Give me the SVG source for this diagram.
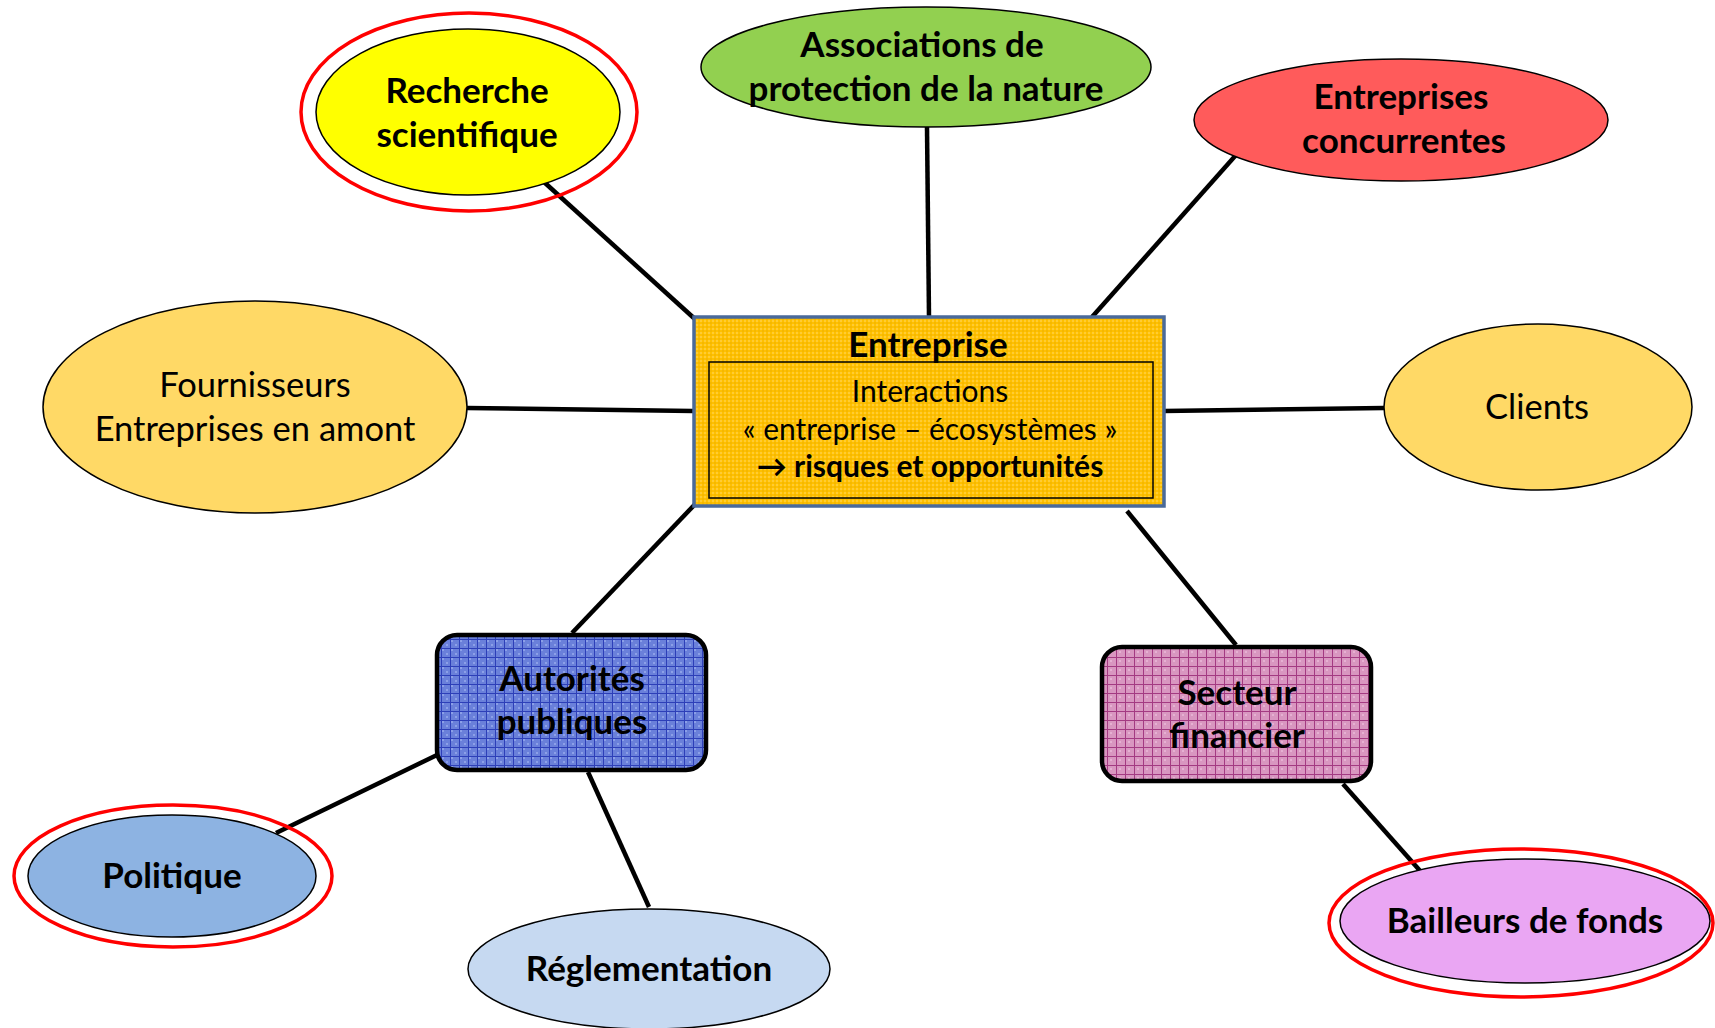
<svg xmlns="http://www.w3.org/2000/svg" width="1715" height="1028" viewBox="0 0 1715 1028">
<style>
.t{font-family:Lato,"Liberation Sans",sans-serif;font-weight:bold;font-size:35px;fill:#000;text-anchor:middle}
.n{font-weight:normal;font-size:34.5px}
.s{font-size:30px}
.el{stroke:#000;stroke-width:1.5}
.red{fill:none;stroke:#FF0000;stroke-width:3.5}
.con line{stroke:#000;stroke-width:4.5;stroke-linecap:butt}
</style>
<defs>
<pattern id="pOr" width="4" height="4" patternUnits="userSpaceOnUse">
<rect width="4" height="4" fill="#FFC000"/>
<rect width="2" height="2" fill="#FFCC33"/>
<rect x="2" y="2" width="2" height="2" fill="#F5B800"/>
</pattern>
<pattern id="pBl" width="9" height="9" patternUnits="userSpaceOnUse">
<rect width="9" height="9" fill="#6A80DA"/>
<rect x="1" y="1" width="2" height="2" fill="#8CA0E8"/>
<rect x="5" y="5" width="2" height="2" fill="#8CA0E8"/>
<path d="M0 0.5H9M0.5 0V9" stroke="#2D3FB8" stroke-width="1"/>
</pattern>
<pattern id="pPk" width="9" height="9" patternUnits="userSpaceOnUse">
<rect width="9" height="9" fill="#D996C0"/>
<rect x="3" y="3" width="2" height="2" fill="#E6B0D2"/>
<path d="M0 0.5H9M0.5 0V9" stroke="#A43A82" stroke-width="1"/>
</pattern>
</defs>
<rect width="1715" height="1028" fill="#fff"/>
<g class="con" id="connectors">
<line x1="544" y1="182" x2="696" y2="320"/>
<line x1="927" y1="127" x2="929" y2="317"/>
<line x1="1236" y1="155" x2="1092" y2="317"/>
<line x1="467" y1="408" x2="693" y2="411"/>
<line x1="1164" y1="411" x2="1384" y2="408"/>
<line x1="700" y1="499" x2="572" y2="633"/>
<line x1="1127" y1="511" x2="1236" y2="645"/>
<line x1="437" y1="755" x2="276" y2="833"/>
<line x1="588" y1="772" x2="649" y2="907"/>
<line x1="1343" y1="784" x2="1422" y2="873"/>
</g>
<g id="recherche">
<ellipse class="red" cx="469" cy="112" rx="168" ry="99"/>
<ellipse class="el" cx="468" cy="112" rx="152" ry="83" fill="#FFFF00"/>
<text class="t" x="467" y="103">Recherche</text>
<text class="t" x="467" y="147">scientifique</text>
</g>
<g id="associations">
<ellipse class="el" cx="926" cy="67" rx="225" ry="60" fill="#92D050"/>
<text class="t" x="922" y="57">Associations de</text>
<text class="t" x="926" y="101">protection de la nature</text>
</g>
<g id="concurrentes">
<ellipse class="el" cx="1401" cy="120" rx="207" ry="61" fill="#FF5B5B"/>
<text class="t" x="1401" y="109">Entreprises</text>
<text class="t" x="1404" y="153">concurrentes</text>
</g>
<g id="fournisseurs">
<ellipse class="el" cx="255" cy="407" rx="212" ry="106" fill="#FFD966"/>
<text class="t n" x="255" y="397">Fournisseurs</text>
<text class="t n" x="255" y="441">Entreprises en amont</text>
</g>
<g id="clients">
<ellipse class="el" cx="1538" cy="407" rx="154" ry="83" fill="#FFD966"/>
<text class="t n" x="1537" y="419">Clients</text>
</g>
<g id="entreprise">
<rect x="694" y="317" width="470" height="189" fill="url(#pOr)" stroke="#4A6A9A" stroke-width="3.5"/>
<rect x="709" y="362" width="444" height="136" fill="none" stroke="#000" stroke-width="1.5"/>
<text class="t" x="928" y="357">Entreprise</text>
<text class="t n s" x="930" y="402">Interactions</text>
<text class="t n s" x="930" y="440">« entreprise – écosystèmes »</text>
<text class="t s" x="930" y="477">→ risques et opportunités</text>
</g>
<g id="autorites">
<rect x="437" y="635" width="269" height="135" rx="20" fill="url(#pBl)" stroke="#000" stroke-width="4.5"/>
<text class="t" x="572" y="691">Autorités</text>
<text class="t" x="572" y="734">publiques</text>
</g>
<g id="secteur">
<rect x="1102" y="647" width="269" height="134" rx="20" fill="url(#pPk)" stroke="#000" stroke-width="4.5"/>
<text class="t" x="1237" y="705">Secteur</text>
<text class="t" x="1237" y="748">financier</text>
</g>
<g id="politique">
<ellipse class="red" cx="173" cy="876" rx="159" ry="71"/>
<ellipse class="el" cx="172" cy="876" rx="144" ry="61" fill="#8DB3E2"/>
<text class="t" x="172" y="888">Politique</text>
</g>
<g id="reglementation">
<ellipse class="el" cx="649" cy="969" rx="181" ry="60" fill="#C6D9F1"/>
<text class="t" x="649" y="981">Réglementation</text>
</g>
<g id="bailleurs">
<ellipse class="red" cx="1521" cy="923" rx="192" ry="74"/>
<ellipse class="el" cx="1525" cy="921" rx="185" ry="62" fill="#EAA6F3"/>
<text class="t" x="1525" y="933">Bailleurs de fonds</text>
</g>
</svg>
